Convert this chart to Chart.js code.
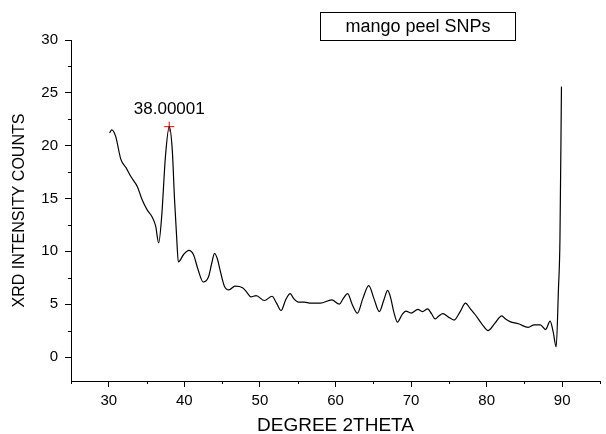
<!DOCTYPE html>
<html>
<head>
<meta charset="utf-8">
<script src="https://cdn.jsdelivr.net/npm/chart.js"></script>
<style>
  html, body { margin: 0; padding: 0; background: #fff; }
</style>
</head>
<body>
<canvas id="myChart" width="606" height="434"></canvas>
<script>
// XRD pattern
const theta = [30.1, 30.4, 30.9, 31.6, 32.3, 32.9, 33.8, 34.4, 35.1, 35.7, 36.2, 36.6, 37.0, 37.5, 38.0, 38.4, 38.7, 39.0, 39.2,
  39.9, 40.6, 41.2, 41.8, 42.5, 43.2, 43.6, 44.0, 44.4, 44.7, 45.3, 45.9, 46.7, 47.7, 48.3, 48.8, 49.5, 50.6, 51.6, 52.2, 52.8,
  53.4, 54.0, 54.5, 55.1, 55.9, 56.7, 58.0, 59.5, 60.5, 61.0, 61.6, 62.2, 62.9, 63.6, 64.4, 65.1, 65.8, 66.4, 66.9, 67.3, 67.7,
  68.2, 68.8, 69.3, 70.0, 70.9, 71.5, 72.2, 72.7, 73.2, 73.7, 74.2, 75.0, 75.7, 76.5, 77.2, 77.8, 78.5, 79.4, 80.2, 81.1, 82.0,
  82.5, 83.1, 84.2, 85.5, 86.3, 87.1, 87.8, 88.4, 88.8, 89.2, 89.5, 89.7, 89.9];
const counts = [21.2, 21.5, 20.9, 18.7, 17.9, 17.1, 16.1, 14.9, 13.9, 13.3, 12.4, 10.8, 13.3, 19.0, 21.8, 19.6, 14.9, 11.1, 9.0,
  9.7, 10.1, 9.7, 8.3, 7.1, 7.6, 8.8, 9.8, 9.2, 8.3, 6.7, 6.35, 6.7, 6.55, 6.1, 5.7, 5.8, 5.35, 5.75, 5.1, 4.4,
  5.4, 6.0, 5.5, 5.2, 5.2, 5.1, 5.1, 5.4, 5.0, 5.5, 6.0, 5.0, 4.15, 5.5, 6.75, 5.5, 4.3, 5.4, 6.3, 5.6, 4.3,
  3.3, 4.0, 4.35, 4.15, 4.5, 4.3, 4.55, 4.1, 3.6, 3.9, 4.1, 3.75, 3.5, 4.3, 5.1, 4.6, 4.0, 3.1, 2.5, 3.2, 3.9,
  3.6, 3.35, 3.15, 2.8, 3.05, 3.05, 2.6, 3.4, 2.4, 0.95, 6.4, 11.1, 25.6];
const seriesName = 'mango peel SNPs';

const peakTheta = [38.00001];
const peakCounts = [21.8];
const peakLabel = ['38.00001'];

const xTicks = [30, 40, 50, 60, 70, 80, 90];
const xMinor = [25, 35, 45, 55, 65, 75, 85, 95];
const yTicks = [0, 5, 10, 15, 20, 25, 30];
const yMinor = [2.5, 7.5, 12.5, 17.5, 22.5, 27.5];

const FONT = '"Liberation Sans", Arial, sans-serif';

// small ticks between the labelled ones
const minorTicks = {
  id: 'minorTicks',
  afterDraw(chart) {
    const ctx = chart.ctx;
    const x = chart.scales.x;
    const y = chart.scales.y;
    ctx.save();
    ctx.strokeStyle = '#000';
    ctx.lineWidth = 1;
    ctx.beginPath();
    xMinor.forEach(function (v) {
      const p = Math.round(x.getPixelForValue(v)) + 0.5;
      ctx.moveTo(p, x.top);
      ctx.lineTo(p, x.top + 3);
    });
    yMinor.forEach(function (v) {
      const p = Math.round(y.getPixelForValue(v)) + 0.5;
      ctx.moveTo(y.right, p);
      ctx.lineTo(y.right - 3, p);
    });
    ctx.stroke();
    ctx.restore();
  }
};

// peak label and the boxed legend
const notes = {
  id: 'notes',
  afterDatasetsDraw(chart) {
    const ctx = chart.ctx;
    const x = chart.scales.x;
    const y = chart.scales.y;
    ctx.save();
    ctx.fillStyle = '#000';
    ctx.font = '17px ' + FONT;
    ctx.textAlign = 'center';
    ctx.textBaseline = 'bottom';
    peakTheta.forEach(function (v, i) {
      ctx.fillText(peakLabel[i], x.getPixelForValue(v), y.getPixelForValue(peakCounts[i]) - 9);
    });

    ctx.strokeStyle = '#000';
    ctx.lineWidth = 1;
    ctx.strokeRect(320.5, 12.5, 195, 28);
    ctx.font = '18px ' + FONT;
    ctx.textBaseline = 'middle';
    ctx.fillText(chart.data.datasets[0].label, 418, 27);
    ctx.restore();
  }
};

new Chart(document.getElementById('myChart'), {
  type: 'line',
  data: {
    datasets: [{
      label: seriesName,
      data: theta.map(function (t, i) { return { x: t, y: counts[i] }; }),
      borderColor: '#000',
      borderWidth: 1.2,
      pointRadius: 0,
      tension: 0.4,
      cubicInterpolationMode: 'monotone'
    }, {
      label: 'peak',
      data: peakTheta.map(function (t, i) { return { x: t, y: peakCounts[i] }; }),
      showLine: false,
      pointStyle: 'cross',
      pointRadius: 5,
      borderColor: '#ff0000',
      borderWidth: 1
    }]
  },
  options: {
    responsive: false,
    animation: false,
    layout: { padding: { top: 40, left: 0, right: 0, bottom: 0 } },
    plugins: {
      legend: { display: false },
      tooltip: { enabled: false }
    },
    scales: {
      x: {
        type: 'linear',
        min: 25,
        max: 95,
        afterBuildTicks: function (s) { s.ticks = xTicks.map(function (v) { return { value: v }; }); },
        afterFit: function (s) { s.height = 53; },
        grid: { drawOnChartArea: false, drawTicks: true, tickLength: 6, tickColor: '#000' },
        border: { display: true, color: '#000', width: 1 },
        ticks: { color: '#000', padding: 5, maxRotation: 0, font: { family: FONT, size: 15 } },
        title: {
          display: true,
          text: 'DEGREE 2THETA',
          color: '#000',
          padding: { top: 0, bottom: 0 },
          font: { family: FONT, size: 19, lineHeight: 0.9 }
        }
      },
      y: {
        min: -2.27,
        max: 30,
        afterBuildTicks: function (s) { s.ticks = yTicks.map(function (v) { return { value: v }; }); },
        afterFit: function (s) { s.width = 71; },
        grid: { drawOnChartArea: false, drawTicks: true, tickLength: 6, tickColor: '#000' },
        border: { display: true, color: '#000', width: 1 },
        ticks: { color: '#000', padding: 7, font: { family: FONT, size: 15 } },
        title: {
          display: true,
          text: 'XRD INTENSITY COUNTS',
          color: '#000',
          padding: { top: 10, bottom: 0 },
          font: { family: FONT, size: 16, lineHeight: 1.2 }
        }
      }
    }
  },
  plugins: [minorTicks, notes]
});
</script>
</body>
</html>
